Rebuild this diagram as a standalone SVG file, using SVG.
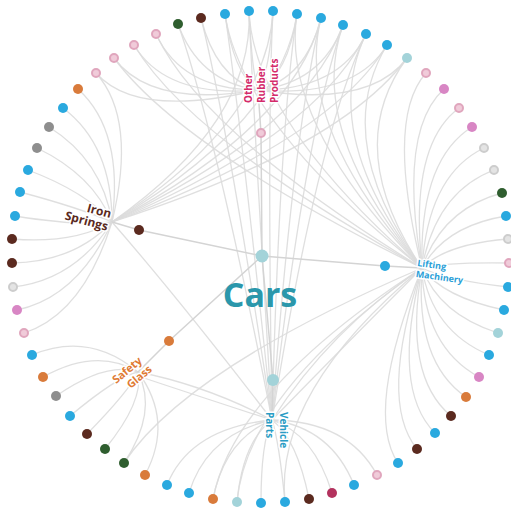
<svg xmlns="http://www.w3.org/2000/svg" width="511" height="512" viewBox="0 0 511 512">
<style>
.c{fill:none;stroke:#dcdcdc;stroke-width:1.3;opacity:0.9}
.s{fill:none;stroke:#d4d4d4;stroke-width:1.5}
.d{stroke-width:0}
.B{fill:#2aa9df}.DB{fill:#5b2a1f}.DG{fill:#2f5e2f}.PL{fill:#f0cbd9;stroke:#e0a6bd;stroke-width:2}.PM{fill:#d886c4}.OR{fill:#d97b3b}.G{fill:#8e8e8e}.LG{fill:#e4e4e4;stroke:#cdcdcd;stroke-width:2}.LT{fill:#a3d3d9}.CR{fill:#b3325e}
.PL,.LG{r:4}
.lbl{font-family:"Open Sans","Liberation Sans",sans-serif;font-weight:700;paint-order:stroke;stroke:#fff;stroke-width:3;stroke-linejoin:round}
</style>
<rect width="511" height="512" fill="#fff"/>
<g id="connectors">
<path class="c" d="M24,333 Q83,314 112,222"/>
<path class="c" d="M17,310 Q78,297 112,222"/>
<path class="c" d="M13,287 Q75,280 112,222"/>
<path class="c" d="M12,263 Q74,262 112,222"/>
<path class="c" d="M12,239 Q74,244 112,222"/>
<path class="c" d="M15,216 Q76,226 112,222"/>
<path class="c" d="M20,192 Q80,208 112,222"/>
<path class="c" d="M28,170 Q86,192 112,222"/>
<path class="c" d="M37,148 Q93,175 112,222"/>
<path class="c" d="M49,127 Q102,160 112,222"/>
<path class="c" d="M63,108 Q112,145 112,222"/>
<path class="c" d="M78,89 Q124,131 112,222"/>
<path class="c" d="M96,73 Q137,119 112,222"/>
<path class="c" d="M96,73 Q137,119 258,90"/>
<path class="c" d="M114,58 Q151,108 258,90"/>
<path class="c" d="M134,45 Q166,98 258,90"/>
<path class="c" d="M156,34 Q182,90 258,90"/>
<path class="c" d="M178,24 Q199,82 258,90"/>
<path class="c" d="M201,18 Q216,78 258,90"/>
<path class="c" d="M225,14 Q234,75 258,90"/>
<path class="c" d="M249,11 Q252,72 258,90"/>
<path class="c" d="M273,11 Q270,72 258,90"/>
<path class="c" d="M297,14 Q288,75 258,90"/>
<path class="c" d="M321,18 Q306,78 258,90"/>
<path class="c" d="M343,25 Q322,83 258,90"/>
<path class="c" d="M366,34 Q340,90 258,90"/>
<path class="c" d="M387,45 Q355,98 258,90"/>
<path class="c" d="M407,58 Q370,108 258,90"/>
<path class="c" d="M426,73 Q385,119 422,268"/>
<path class="c" d="M444,89 Q398,131 422,268"/>
<path class="c" d="M459,108 Q409,145 422,268"/>
<path class="c" d="M472,127 Q419,160 422,268"/>
<path class="c" d="M484,148 Q428,175 422,268"/>
<path class="c" d="M494,170 Q436,192 422,268"/>
<path class="c" d="M502,193 Q442,209 422,268"/>
<path class="c" d="M506,216 Q445,226 422,268"/>
<path class="c" d="M508,239 Q446,244 422,268"/>
<path class="c" d="M509,263 Q447,262 422,268"/>
<path class="c" d="M508,287 Q446,280 422,268"/>
<path class="c" d="M504,310 Q443,297 422,268"/>
<path class="c" d="M498,333 Q439,314 422,268"/>
<path class="c" d="M489,355 Q432,331 422,268"/>
<path class="c" d="M479,377 Q424,347 422,268"/>
<path class="c" d="M466,397 Q415,362 422,268"/>
<path class="c" d="M451,416 Q403,376 422,268"/>
<path class="c" d="M435,433 Q391,389 422,268"/>
<path class="c" d="M417,449 Q378,401 422,268"/>
<path class="c" d="M398,463 Q364,412 422,268"/>
<path class="c" d="M377,475 Q348,421 272,420"/>
<path class="c" d="M354,485 Q331,428 272,420"/>
<path class="c" d="M332,493 Q314,434 272,420"/>
<path class="c" d="M309,499 Q297,439 272,420"/>
<path class="c" d="M285,502 Q279,441 272,420"/>
<path class="c" d="M261,503 Q261,442 272,420"/>
<path class="c" d="M237,502 Q243,441 272,420"/>
<path class="c" d="M213,499 Q225,439 272,420"/>
<path class="c" d="M189,493 Q207,434 272,420"/>
<path class="c" d="M167,485 Q190,428 272,420"/>
<path class="c" d="M145,475 Q174,421 138,372"/>
<path class="c" d="M124,463 Q158,412 138,372"/>
<path class="c" d="M105,449 Q144,401 138,372"/>
<path class="c" d="M87,434 Q130,390 138,372"/>
<path class="c" d="M70,416 Q118,376 138,372"/>
<path class="c" d="M56,396 Q107,361 138,372"/>
<path class="c" d="M43,377 Q97,347 138,372"/>
<path class="c" d="M32,355 Q89,331 138,372"/>
<path class="c" d="M249,11 Q254,122 272,420"/>
<path class="c" d="M273,11 Q267,122 272,420"/>
<path class="c" d="M297,14 Q280,123 272,420"/>
<path class="c" d="M321,18 Q294,126 272,420"/>
<path class="c" d="M343,25 Q306,129 272,420"/>
<path class="c" d="M366,34 Q318,134 272,420"/>
<path class="c" d="M225,14 Q241,123 272,420"/>
<path class="c" d="M201,18 Q228,126 272,420"/>
<path class="c" d="M178,24 Q215,129 272,420"/>
<path class="c" d="M297,14 Q280,123 422,268"/>
<path class="c" d="M321,18 Q294,126 422,268"/>
<path class="c" d="M343,25 Q306,129 422,268"/>
<path class="c" d="M366,34 Q318,134 422,268"/>
<path class="c" d="M387,45 Q330,140 422,268"/>
<path class="c" d="M407,58 Q341,148 422,268"/>
<path class="c" d="M225,14 Q241,123 422,268"/>
<path class="c" d="M249,11 Q254,122 422,268"/>
<path class="c" d="M114,58 Q180,148 422,268"/>
<path class="c" d="M134,45 Q191,140 422,268"/>
<path class="c" d="M156,34 Q203,134 422,268"/>
<path class="c" d="M249,11 Q254,122 112,222"/>
<path class="c" d="M273,11 Q267,122 112,222"/>
<path class="c" d="M297,14 Q280,123 112,222"/>
<path class="c" d="M321,18 Q294,126 112,222"/>
<path class="c" d="M343,25 Q306,129 112,222"/>
<path class="c" d="M366,34 Q318,134 112,222"/>
<path class="c" d="M387,45 Q330,140 112,222"/>
<path class="c" d="M407,58 Q341,148 112,222"/>
<path class="c" d="M237,502 Q247,392 422,268"/>
<path class="c" d="M213,499 Q234,390 422,268"/>
<path class="c" d="M124,463 Q185,370 422,268"/>
<path class="c" d="M285,502 Q274,392 422,268"/>
<path class="c" d="M272,420 Q330,330 422,268"/>
<path class="c" d="M272,420 Q350,340 422,268"/>
<path class="c" d="M138,372 Q205,385 272,420"/>
<path class="c" d="M138,376 Q210,400 272,420"/>
<path class="c" d="M112,222 Q180,300 272,420"/>
<path class="s" d="M112,222 L139,230 L262,256 L385,266 L422,268"/>
<path class="s" d="M258,90 L261,133 L262,256 L273,380 L272,420"/>
<path class="s" d="M138,372 L169,341 L262,256"/>
</g>
<g id="ring">
<g id="n1"><circle class="d B" cx="249" cy="11" r="5"/></g>
<g id="n2"><circle class="d B" cx="273" cy="11" r="5"/></g>
<g id="n3"><circle class="d B" cx="297" cy="14" r="5"/></g>
<g id="n4"><circle class="d B" cx="321" cy="18" r="5"/></g>
<g id="n5"><circle class="d B" cx="343" cy="25" r="5"/></g>
<g id="n6"><circle class="d B" cx="366" cy="34" r="5"/></g>
<g id="n7"><circle class="d B" cx="387" cy="45" r="5"/></g>
<g id="n8"><circle class="d LT" cx="407" cy="58" r="5"/></g>
<g id="n9"><circle class="PL" cx="426" cy="73" r="4"/></g>
<g id="n10"><circle class="d PM" cx="444" cy="89" r="5"/></g>
<g id="n11"><circle class="PL" cx="459" cy="108" r="4"/></g>
<g id="n12"><circle class="d PM" cx="472" cy="127" r="5"/></g>
<g id="n13"><circle class="LG" cx="484" cy="148" r="4"/></g>
<g id="n14"><circle class="LG" cx="494" cy="170" r="4"/></g>
<g id="n15"><circle class="d DG" cx="502" cy="193" r="5"/></g>
<g id="n16"><circle class="d B" cx="506" cy="216" r="5"/></g>
<g id="n17"><circle class="LG" cx="508" cy="239" r="4"/></g>
<g id="n18"><circle class="PL" cx="509" cy="263" r="4"/></g>
<g id="n19"><circle class="d B" cx="508" cy="287" r="5"/></g>
<g id="n20"><circle class="d B" cx="504" cy="310" r="5"/></g>
<g id="n21"><circle class="d LT" cx="498" cy="333" r="5"/></g>
<g id="n22"><circle class="d B" cx="489" cy="355" r="5"/></g>
<g id="n23"><circle class="d PM" cx="479" cy="377" r="5"/></g>
<g id="n24"><circle class="d OR" cx="466" cy="397" r="5"/></g>
<g id="n25"><circle class="d DB" cx="451" cy="416" r="5"/></g>
<g id="n26"><circle class="d B" cx="435" cy="433" r="5"/></g>
<g id="n27"><circle class="d DB" cx="417" cy="449" r="5"/></g>
<g id="n28"><circle class="d B" cx="398" cy="463" r="5"/></g>
<g id="n29"><circle class="PL" cx="377" cy="475" r="4"/></g>
<g id="n30"><circle class="d B" cx="354" cy="485" r="5"/></g>
<g id="n31"><circle class="d CR" cx="332" cy="493" r="5"/></g>
<g id="n32"><circle class="d DB" cx="309" cy="499" r="5"/></g>
<g id="n33"><circle class="d B" cx="285" cy="502" r="5"/></g>
<g id="n34"><circle class="d B" cx="261" cy="503" r="5"/></g>
<g id="n35"><circle class="d LT" cx="237" cy="502" r="5"/></g>
<g id="n36"><circle class="d OR" cx="213" cy="499" r="5"/></g>
<g id="n37"><circle class="d B" cx="189" cy="493" r="5"/></g>
<g id="n38"><circle class="d B" cx="167" cy="485" r="5"/></g>
<g id="n39"><circle class="d OR" cx="145" cy="475" r="5"/></g>
<g id="n40"><circle class="d DG" cx="124" cy="463" r="5"/></g>
<g id="n41"><circle class="d DG" cx="105" cy="449" r="5"/></g>
<g id="n42"><circle class="d DB" cx="87" cy="434" r="5"/></g>
<g id="n43"><circle class="d B" cx="70" cy="416" r="5"/></g>
<g id="n44"><circle class="d G" cx="56" cy="396" r="5"/></g>
<g id="n45"><circle class="d OR" cx="43" cy="377" r="5"/></g>
<g id="n46"><circle class="d B" cx="32" cy="355" r="5"/></g>
<g id="n47"><circle class="PL" cx="24" cy="333" r="4"/></g>
<g id="n48"><circle class="d PM" cx="17" cy="310" r="5"/></g>
<g id="n49"><circle class="LG" cx="13" cy="287" r="4"/></g>
<g id="n50"><circle class="d DB" cx="12" cy="263" r="5"/></g>
<g id="n51"><circle class="d DB" cx="12" cy="239" r="5"/></g>
<g id="n52"><circle class="d B" cx="15" cy="216" r="5"/></g>
<g id="n53"><circle class="d B" cx="20" cy="192" r="5"/></g>
<g id="n54"><circle class="d B" cx="28" cy="170" r="5"/></g>
<g id="n55"><circle class="d G" cx="37" cy="148" r="5"/></g>
<g id="n56"><circle class="d G" cx="49" cy="127" r="5"/></g>
<g id="n57"><circle class="d B" cx="63" cy="108" r="5"/></g>
<g id="n58"><circle class="d OR" cx="78" cy="89" r="5"/></g>
<g id="n59"><circle class="PL" cx="96" cy="73" r="4"/></g>
<g id="n60"><circle class="PL" cx="114" cy="58" r="4"/></g>
<g id="n61"><circle class="PL" cx="134" cy="45" r="4"/></g>
<g id="n62"><circle class="PL" cx="156" cy="34" r="4"/></g>
<g id="n63"><circle class="d DG" cx="178" cy="24" r="5"/></g>
<g id="n64"><circle class="d DB" cx="201" cy="18" r="5"/></g>
<g id="n65"><circle class="d B" cx="225" cy="14" r="5"/></g>
</g>
<g id="cars">
<circle class="d LT" cx="262" cy="256" r="6.5"/>
<text x="260" y="307" text-anchor="middle" font-family="'Open Sans','Liberation Sans',sans-serif" font-weight="700" font-size="34" fill="#2b97ab">Cars</text>
</g>
<g id="iron-springs">
<circle class="d DB" cx="139" cy="230" r="5"/>
<g transform="translate(109,222) rotate(15)">
<text class="lbl" x="0" y="-4" text-anchor="end" font-size="12" fill="#5a2a1e">Iron</text>
<text class="lbl" x="0" y="9" text-anchor="end" font-size="12" fill="#5a2a1e">Springs</text>
</g>
</g>
<g id="other-rubber-products">
<circle class="PL" cx="261" cy="133" r="4"/>
<g transform="translate(252,103) rotate(-90)">
<text class="lbl" x="0" y="0" font-size="10" fill="#d42b6b">Other</text>
<text class="lbl" x="0" y="13" font-size="10" fill="#d42b6b">Rubber</text>
<text class="lbl" x="0" y="26" font-size="10" fill="#d42b6b">Products</text>
</g>
</g>
<g id="lifting-machinery">
<circle class="d B" cx="385" cy="266" r="5"/>
<g transform="translate(417,266) rotate(8)">
<text class="lbl" x="0" y="0" font-size="9" fill="#2b9fd8">Lifting</text>
<text class="lbl" x="0" y="11" font-size="9" fill="#2b9fd8">Machinery</text>
</g>
</g>
<g id="safety-glass">
<circle class="d OR" cx="169" cy="341" r="5"/>
<g transform="translate(133,374) rotate(-40)">
<text class="lbl" x="-2" y="-3" text-anchor="middle" font-size="11" fill="#e07b35">Safety</text>
<text class="lbl" x="3" y="10" text-anchor="middle" font-size="11" fill="#e07b35">Glass</text>
</g>
</g>
<g id="vehicle-parts">
<circle class="d LT" cx="273" cy="380" r="6"/>
<g transform="translate(279.5,412) rotate(90)">
<text class="lbl" x="0" y="0" font-size="10" fill="#2a9cc4">Vehicle</text>
<text class="lbl" x="0" y="14" font-size="10" fill="#2a9cc4">Parts</text>
</g>
</g>
</svg>
